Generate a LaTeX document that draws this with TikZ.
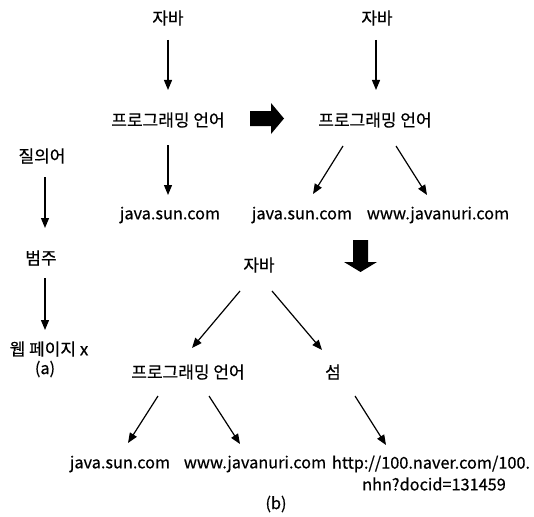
\documentclass[tikz,border=0pt]{standalone}
\usepackage{fontspec}
\setmainfont{Noto Sans CJK KR}[FakeBold=0.5]
\newfontfamily\lblfont{Noto Sans CJK KR}[FakeBold=0.5]
\usetikzlibrary{arrows.meta}
\begin{document}
\begin{tikzpicture}[x=1pt,y=-1pt,
  lbl/.style={inner sep=0pt,font=\lblfont\fontsize{17}{18}\selectfont},
  lat/.style={inner sep=0pt,font=\lblfont\fontsize{16.3}{18}\selectfont},
  arr/.style={line width=1.2pt,-{Triangle[length=10pt,width=8pt]}},
  big/.style={fill=black,draw=none}]
\useasboundingbox (0,0) rectangle (534,516);
% left-top tree
\node[lbl] (j1) at (168,18) {자바};
\node[lbl] (p1) at (168,120) {프로그래밍 언어};
\node[lat] (s1) at (170,215) {java.sun.com};
\coordinate (a1s) at (168,40); \coordinate (a1e) at (168,90);
\coordinate (a2s) at (168,145); \coordinate (a2e) at (168,195);
\draw[arr] (a1s) -- (a1e);
\draw[arr] (a2s) -- (a2e);
% big right arrow
\fill[big] (250,111) -- (271,111) -- (271,103) -- (284,118.5) -- (271,134) -- (271,126) -- (250,126) -- cycle;
% right-top tree
\node[lbl] (j2) at (377,18) {자바};
\node[lbl] (p2) at (375,120) {프로그래밍 언어};
\node[lat] (s2) at (302,215) {java.sun.com};
\node[lat] (w2) at (438,215) {www.javanuri.com};
\coordinate (b1s) at (376,40); \coordinate (b1e) at (376,90);
\coordinate (b2s) at (343,146); \coordinate (b2e) at (313,194);
\coordinate (b3s) at (396,146); \coordinate (b3e) at (427,195);
\draw[arr] (b1s) -- (b1e);
\draw[arr] (b2s) -- (b2e);
\draw[arr] (b3s) -- (b3e);
% left chain (a)
\node[lbl] (q) at (42,156) {질의어};
\node[lbl] (c) at (41,258) {범주};
\node[lbl] (wp) at (49,349) {웹 페이지 x};
\node[lat] (la) at (45,369) {(a)};
\coordinate (c1s) at (45,177); \coordinate (c1e) at (45,228);
\coordinate (c2s) at (45,278); \coordinate (c2e) at (45,330);
\draw[arr] (c1s) -- (c1e);
\draw[arr] (c2s) -- (c2e);
% big down arrow
\fill[big] (353,240) -- (368,240) -- (368,262) -- (377,262) -- (360.5,272) -- (344,262) -- (353,262) -- cycle;
% bottom tree
\node[lbl] (j3) at (259,265) {자바};
\node[lbl] (p3) at (188,372) {프로그래밍 언어};
\node[lbl] (sm) at (333,372) {섬};
\node[lat] (s3) at (120,464) {java.sun.com};
\node[lat] (w3) at (255,464) {www.javanuri.com};
\node[lat] (n3) at (431,464) {http://100.naver.com/100.};
\node[lat] (n4) at (434,484) {nhn?docid=131459};
\node[lat] (lb) at (276,504) {(b)};
\coordinate (d1s) at (240,291); \coordinate (d1e) at (192,348);
\coordinate (d2s) at (272,291); \coordinate (d2e) at (322,350);
\coordinate (d3s) at (158,396); \coordinate (d3e) at (128,443);
\coordinate (d4s) at (209,396); \coordinate (d4e) at (240,444);
\coordinate (d5s) at (355,396); \coordinate (d5e) at (386,445);
\draw[arr] (d1s) -- (d1e);
\draw[arr] (d2s) -- (d2e);
\draw[arr] (d3s) -- (d3e);
\draw[arr] (d4s) -- (d4e);
\draw[arr] (d5s) -- (d5e);
\end{tikzpicture}
\end{document}
